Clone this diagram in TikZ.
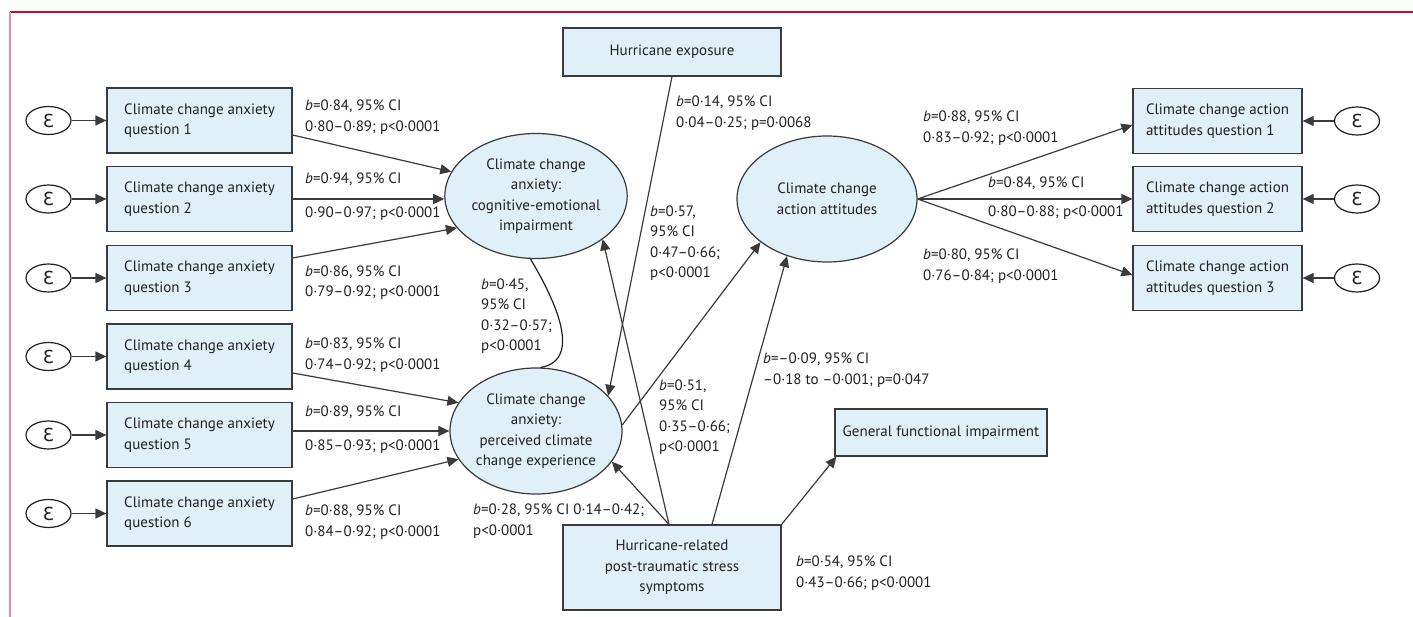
\documentclass[tikz,border=0pt]{standalone}
\usepackage{fontspec}
\setmainfont{PT Sans}
\newfontfamily\epsfont{DejaVu Sans}
\usetikzlibrary{arrows.meta,shapes.geometric}
\definecolor{boxfill}{HTML}{DFF0F8}
\definecolor{linec}{HTML}{3A3A3A}
\definecolor{textc}{HTML}{231F20}
\definecolor{topred}{HTML}{C8102E}
\definecolor{leftpink}{HTML}{E38FAE}
\tikzset{
  basefont/.style={font=\fontsize{15}{20.5}\selectfont, text=textc},
  lbox/.style={basefont, draw=linec, fill=boxfill, line width=1.2pt, rectangle, inner sep=0pt,
     minimum width=185pt, minimum height=65pt, align=left},
  rbox/.style={basefont, draw=linec, fill=boxfill, line width=1.2pt, rectangle, inner sep=0pt,
     minimum width=169pt, minimum height=65pt, align=left},
  cbox/.style={basefont, draw=linec, fill=boxfill, line width=1.2pt, rectangle, inner sep=0pt, align=center},
  latent/.style={basefont, draw=linec, fill=boxfill, line width=1.2pt, ellipse, inner sep=0pt, align=center},
  errnode/.style={draw=textc, fill=white, line width=1.2pt, ellipse, inner sep=0pt,
     minimum width=45pt, minimum height=28pt, font=\epsfont\fontsize{18}{18}\selectfont, text=textc},
  lab/.style={basefont, anchor=west, align=left, inner sep=0pt},
  arr/.style={draw=linec, line width=1.2pt, -{Triangle[length=11pt,width=10pt]}},
  plain/.style={draw=textc, line width=1.2pt}
}
\begin{document}
\begin{tikzpicture}[x=1pt,y=-1pt]
\useasboundingbox (0,0) rectangle (1413,617);
% frame
\draw[topred, line width=1.5pt] (10,12) -- (1413,12);
\draw[leftpink, line width=2pt] (10,12) -- (10,617);

% left indicator boxes
\node[lbox] (q1) at (199.5,120.5) {Climate change anxiety\\question 1};
\node[lbox] (q2) at (199.5,199) {Climate change anxiety\\question 2};
\node[lbox] (q3) at (199.5,278) {Climate change anxiety\\question 3};
\node[lbox] (q4) at (199.5,356.5) {Climate change anxiety\\question 4};
\node[lbox] (q5) at (199.5,435) {Climate change anxiety\\question 5};
\node[lbox] (q6) at (199.5,513.5) {Climate change anxiety\\question 6};

% left error terms
\node[errnode] (eps1) at (48.5,120.5) {Ɛ};
\node[errnode] (eps2) at (48.5,199) {Ɛ};
\node[errnode] (eps3) at (48.5,278) {Ɛ};
\node[errnode] (eps4) at (48.5,356.5) {Ɛ};
\node[errnode] (eps5) at (48.5,435) {Ɛ};
\node[errnode] (eps6) at (48.5,513.5) {Ɛ};

% latent variables
\node[latent, minimum width=172pt, minimum height=125pt] (e1) at (536,196)
  {Climate change\\anxiety:\\cognitive-emotional\\impairment};
\node[latent, minimum width=172pt, minimum height=126pt] (e2) at (536,431)
  {Climate change\\anxiety:\\perceived climate\\change experience};
\node[latent, minimum width=180pt, minimum height=126pt] (e3) at (827,199)
  {Climate change\\action attitudes};

% central boxes
\node[cbox, minimum width=218pt, minimum height=48pt] (he) at (672,52) {Hurricane exposure};
\node[cbox, minimum width=218pt, minimum height=85pt] (pt) at (672,567.5)
  {Hurricane-related\\post-traumatic stress\\symptoms};
\node[cbox, minimum width=212pt, minimum height=47pt] (gfi) at (941,432.5) {General functional impairment};

% right indicator boxes
\node[rbox] (r1) at (1217.5,121) {Climate change action\\attitudes question 1};
\node[rbox] (r2) at (1217.5,199) {Climate change action\\attitudes question 2};
\node[rbox] (r3) at (1217.5,278) {Climate change action\\attitudes question 3};

% right error terms
\node[errnode] (reps1) at (1357,121) {Ɛ};
\node[errnode] (reps2) at (1357,199) {Ɛ};
\node[errnode] (reps3) at (1357,278) {Ɛ};

% error arrows
\foreach \i in {1,...,6} { \draw[arr] (eps\i) -- (q\i); }
\foreach \i in {1,2,3} { \draw[arr] (reps\i) -- (r\i); }

% loadings to latent 1 and 2
\draw[arr] ([yshift=-14.5pt]q1.east) -- (e1.164);
\draw[arr] (q2.east) -- (q2.east -| e1.west);
\draw[arr] ([yshift=20pt]q3.east) -- (e1.202);
\draw[arr] ([yshift=-16.5pt]q4.east) -- (e2.160);
\draw[arr] (q5.east |- e2.west) -- (e2.west);
\draw[arr] ([yshift=14.5pt]q6.east) -- (e2.200);

% loadings from latent 3
\draw[arr] (e3.east) -- ([yshift=-4pt]r1.west);
\draw[arr] (e3.east) -- (e3.east -| r2.west);
\draw[arr] (e3.east) -- ([yshift=3pt]r3.west);

% structural paths
\draw[arr] (he.south) -- (e2.26);
\draw[arr] ([xshift=-3pt]pt.north) -- (e1.-33);
\draw[arr] ([xshift=-3pt]pt.north) -- (e2.-22);
\draw[arr] ([xshift=40pt]pt.north) -- (e3.235);
\draw[arr] (e2.4) -- (e3.213);
\draw[arr] (pt.north east) -- ([xshift=2pt]gfi.south west);
\draw[plain] (e1.-95) .. controls (552,295) and (585,360) .. (e2.86);

% labels left
\node[lab] (l1) at (305,117) {\textit{b}=0·84, 95\% CI\\0·80–0·89; p<0·0001};
\node[lab] (l2) at (305,196.5) {\textit{b}=0·94, 95\% CI\\[13pt]0·90–0·97; p<0·0001};
\node[lab] (l3) at (305,282.5) {\textit{b}=0·86, 95\% CI\\0·79–0·92; p<0·0001};
\node[lab] (l4) at (305,355) {\textit{b}=0·83, 95\% CI\\0·74–0·92; p<0·0001};
\node[lab] (l5) at (305,429.5) {\textit{b}=0·89, 95\% CI\\[13pt]0·85–0·93; p<0·0001};
\node[lab] (l6) at (305,522) {\textit{b}=0·88, 95\% CI\\0·84–0·92; p<0·0001};

% labels centre
\node[lab] (lhe) at (676,113) {\textit{b}=0·14, 95\% CI\\0·04–0·25; p=0·0068};
\node[lab] (l57) at (650,243) {\textit{b}=0·57,\\95\% CI\\0·47–0·66;\\p<0·0001};
\node[lab] (l45) at (481,316) {\textit{b}=0·45,\\95\% CI\\0·32–0·57;\\p<0·0001};
\node[lab] (l51) at (659,417) {\textit{b}=0·51,\\95\% CI\\0·35–0·66;\\p<0·0001};
\node[lab] (l09) at (763,370) {\textit{b}=–0·09, 95\% CI\\–0·18 to –0·001; p=0·047};
\node[lab] (l28) at (473,521) {\textit{b}=0·28, 95\% CI 0·14–0·42;\\p<0·0001};
\node[lab] (l54) at (796,573) {\textit{b}=0·54, 95\% CI\\0·43–0·66; p<0·0001};

% labels right
\node[lab] (lr1) at (923,128) {\textit{b}=0·88, 95\% CI\\0·83–0·92; p<0·0001};
\node[lab] (lr2) at (988,198) {\textit{b}=0·84, 95\% CI\\[9pt]0·80–0·88; p<0·0001};
\node[lab] (lr3) at (923,266) {\textit{b}=0·80, 95\% CI\\0·76–0·84; p<0·0001};
\end{tikzpicture}
\end{document}
